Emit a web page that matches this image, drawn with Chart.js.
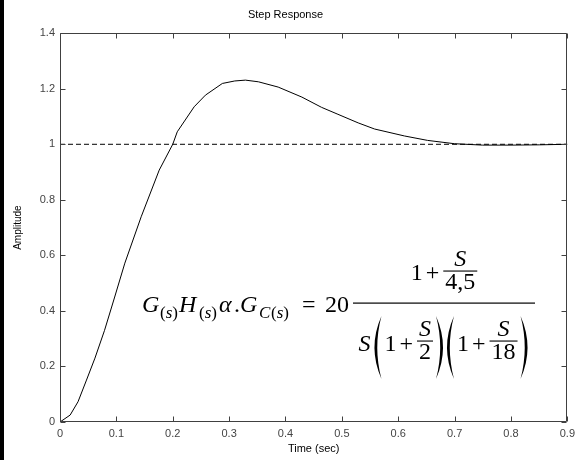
<!DOCTYPE html>
<html>
<head>
<meta charset="utf-8">
<script src="https://cdn.jsdelivr.net/npm/chart.js@4.4.1/dist/chart.umd.min.js"></script>
<style>
  html, body { margin: 0; padding: 0; background: #fff; }
  canvas { display: block; }
</style>
</head>
<body>
<canvas id="step-response" width="580" height="460"></canvas>
<script>
// step response
const timeSec = [0, 0.018, 0.032, 0.047, 0.062, 0.079, 0.097, 0.115, 0.144, 0.176, 0.2, 0.208,
  0.238, 0.258, 0.288, 0.31, 0.329, 0.352, 0.387, 0.429, 0.464, 0.493, 0.529, 0.558, 0.611,
  0.652, 0.7, 0.75, 0.8, 0.85, 0.9];
const amplitude = [0, 0.025, 0.073, 0.151, 0.23, 0.33, 0.45, 0.572, 0.739, 0.907, 1.0, 1.045,
  1.135, 1.177, 1.219, 1.228, 1.231, 1.225, 1.206, 1.17, 1.133, 1.108, 1.077, 1.055, 1.03,
  1.014, 1.002, 0.997, 0.997, 0.998, 1.0];

// steady state reference (dashed)
const refTime = [0, 0.9];
const refLevel = [1, 1];

const xTickValues = [0, 0.1, 0.2, 0.3, 0.4, 0.5, 0.6, 0.7, 0.8, 0.9];
const xTickLabels = ['0', '0.1', '0.2', '0.3', '0.4', '0.5', '0.6', '0.7', '0.8', '0.9'];
const yTickValues = [0, 0.2, 0.4, 0.6, 0.8, 1, 1.2, 1.4];
const yTickLabels = ['0', '0.2', '0.4', '0.6', '0.8', '1', '1.2', '1.4'];

const SANS = '"Liberation Sans", Arial, Helvetica, sans-serif';
const SERIF = '"Liberation Serif", "Times New Roman", serif';

// frame + inward ticks like matlab
const matlabAxes = {
  id: 'matlabAxes',
  beforeDraw(chart) {
    const ctx = chart.ctx;
    ctx.save();
    ctx.fillStyle = '#fff';
    ctx.fillRect(0, 0, chart.width, chart.height);
    ctx.fillStyle = '#000';
    ctx.fillRect(0, 0, 4, chart.height);
    ctx.restore();
  },
  afterDatasetsDraw(chart) {
    const { ctx, chartArea: a, scales: { x, y } } = chart;
    const L = Math.round(a.left) + 0.5, R = Math.round(a.right) - 0.5;
    const T = Math.round(a.top) + 0.5, B = Math.round(a.bottom) - 0.5;
    ctx.save();
    ctx.strokeStyle = '#404040';
    ctx.lineWidth = 1;
    ctx.beginPath();
    ctx.rect(L, T, R - L, B - T);
    xTickValues.forEach(v => {
      const px = Math.round(x.getPixelForValue(v)) + 0.5;
      ctx.moveTo(px, B); ctx.lineTo(px, B - 5);
      ctx.moveTo(px, T); ctx.lineTo(px, T + 5);
    });
    yTickValues.forEach(v => {
      const py = Math.round(y.getPixelForValue(v)) + 0.5;
      ctx.moveTo(L, py); ctx.lineTo(L + 5, py);
      ctx.moveTo(R, py); ctx.lineTo(R - 5, py);
    });
    ctx.stroke();
    ctx.restore();
  }
};

const FM = `24px ${SERIF}`, FMI = `italic 24px ${SERIF}`;
const FS = `17px ${SERIF}`, FSI = `italic 17px ${SERIF}`;

function put(ctx, text, font, x, y) {
  ctx.font = font;
  ctx.fillText(text, x, y);
  return ctx.measureText(text).width;
}
function width(ctx, text, font) {
  ctx.font = font;
  return ctx.measureText(text).width;
}
function paren(ctx, x, top, bottom, left) {
  // stretched parenthesis as a crescent
  const mid = (top + bottom) / 2, w = 7, t = 2.8;
  ctx.beginPath();
  if (left) {
    ctx.moveTo(x + w, top);
    ctx.quadraticCurveTo(x - w, mid, x + w, bottom);
    ctx.quadraticCurveTo(x - w + 2 * t, mid, x + w, top);
  } else {
    ctx.moveTo(x - w, top);
    ctx.quadraticCurveTo(x + w, mid, x - w, bottom);
    ctx.quadraticCurveTo(x + w - 2 * t, mid, x - w, top);
  }
  ctx.fill();
}
function fracWidth(ctx, num, den) {
  return Math.max(width(ctx, num, FMI), width(ctx, den, FM)) + 4;
}
function smallFrac(ctx, num, den, x, barY) {
  const wn = width(ctx, num, FMI), wd = width(ctx, den, FM);
  const w = fracWidth(ctx, num, den);
  put(ctx, num, FMI, x + (w - wn) / 2, barY - 5);
  put(ctx, den, FM, x + (w - wd) / 2, barY + 18);
  ctx.fillRect(x, barY - 0.5, w, 1.1);
  return w;
}

const equation = {
  id: 'equation',
  afterDraw(chart) {
    const ctx = chart.ctx;
    ctx.save();
    ctx.fillStyle = '#000';
    ctx.textBaseline = 'alphabetic';
    ctx.textAlign = 'left';
    const base = 312, sub = 318;
    const subS = x => {
      x += put(ctx, '(', FS, x, sub);
      x += put(ctx, 's', FSI, x, sub);
      put(ctx, ')', FS, x, sub);
    };
    put(ctx, 'G', FMI, 142, base); subS(160);
    put(ctx, 'H', FMI, 179, base); subS(199);
    put(ctx, 'α', FMI, 219, base);
    put(ctx, '.', FM, 234, base);
    put(ctx, 'G', FMI, 240, base);
    put(ctx, 'C', FSI, 259, sub); subS(271);
    put(ctx, '=', FM, 302, base);
    put(ctx, '20', FM, 325, base);

    const barL = 353, barR = 535, barW = barR - barL;
    ctx.fillRect(barL, 302.5, barW, 1.2);

    const w1 = width(ctx, '1', FM), wp = width(ctx, '+', FM), wS = width(ctx, 'S', FMI);

    // numerator: 1 + S/4,5
    const numW = w1 + 3 + wp + 4 + fracWidth(ctx, 'S', '4,5');
    let nx = barL + (barW - numW) / 2;
    nx += put(ctx, '1', FM, nx, 280) + 3;
    nx += put(ctx, '+', FM, nx, 280) + 4;
    smallFrac(ctx, 'S', '4,5', nx, 271);

    // denominator: S(1 + S/2)(1 + S/18)
    const denW = wS + 2 + 12 + w1 + 3 + wp + 4 + fracWidth(ctx, 'S', '2') + 12 + 12 +
      w1 + 3 + wp + 4 + fracWidth(ctx, 'S', '18') + 12;
    const db = 351, pT = 316, pB = 379;
    let dx = barL + (barW - denW) / 2;
    dx += put(ctx, 'S', FMI, dx, db) + 2;
    paren(ctx, dx + 2, pT, pB, true); dx += 12;
    dx += put(ctx, '1', FM, dx, db) + 3;
    dx += put(ctx, '+', FM, dx, db) + 4;
    dx += smallFrac(ctx, 'S', '2', dx, 341);
    paren(ctx, dx + 10, pT, pB, false); dx += 12;
    paren(ctx, dx + 2, pT, pB, true); dx += 12;
    dx += put(ctx, '1', FM, dx, db) + 3;
    dx += put(ctx, '+', FM, dx, db) + 4;
    dx += smallFrac(ctx, 'S', '18', dx, 341);
    paren(ctx, dx + 10, pT, pB, false);
    ctx.restore();
  }
};

new Chart(document.getElementById('step-response'), {
  type: 'scatter',
  data: {
    datasets: [
      {
        data: refTime.map((t, i) => ({ x: t, y: refLevel[i] })),
        showLine: true,
        borderColor: '#000',
        borderWidth: 1,
        borderDash: [5, 3],
        pointRadius: 0
      },
      {
        data: timeSec.map((t, i) => ({ x: t, y: amplitude[i] })),
        showLine: true,
        borderColor: '#000',
        borderWidth: 1,
        tension: 0,
        pointRadius: 0
      }
    ]
  },
  options: {
    responsive: false,
    devicePixelRatio: 1,
    animation: false,
    layout: { padding: { right: 9 } },
    plugins: {
      legend: { display: false },
      tooltip: { enabled: false },
      title: {
        display: true,
        text: 'Step Response',
        color: '#000',
        font: { family: SANS, size: 11, weight: 'normal' },
        padding: { top: 8, bottom: 12 }
      }
    },
    scales: {
      x: {
        type: 'linear',
        min: 0,
        max: 0.9,
        afterBuildTicks: s => { s.ticks = xTickValues.map(v => ({ value: v })); },
        afterFit: s => { s.height = 38; },
        grid: { display: false, drawTicks: false },
        border: { display: false },
        ticks: {
          color: '#444',
          padding: 5,
          maxRotation: 0,
          font: { family: SANS, size: 11 },
          callback: (v, i) => xTickLabels[i]
        },
        title: {
          display: true,
          text: 'Time (sec)',
          color: '#000',
          font: { family: SANS, size: 11 },
          padding: { top: 0, bottom: 4 }
        }
      },
      y: {
        min: 0,
        max: 1.4,
        afterBuildTicks: s => { s.ticks = yTickValues.map(v => ({ value: v })); },
        afterFit: s => { s.width = 60; },
        grid: { display: false, drawTicks: false },
        border: { display: false },
        ticks: {
          color: '#444',
          padding: 5,
          font: { family: SANS, size: 11 },
          callback: (v, i) => yTickLabels[i]
        },
        title: {
          display: true,
          text: 'Amplitude',
          color: '#000',
          font: { family: SANS, size: 10 },
          padding: { top: 12, bottom: 0 }
        }
      }
    }
  },
  plugins: [matlabAxes, equation]
});
</script>
</body>
</html>
